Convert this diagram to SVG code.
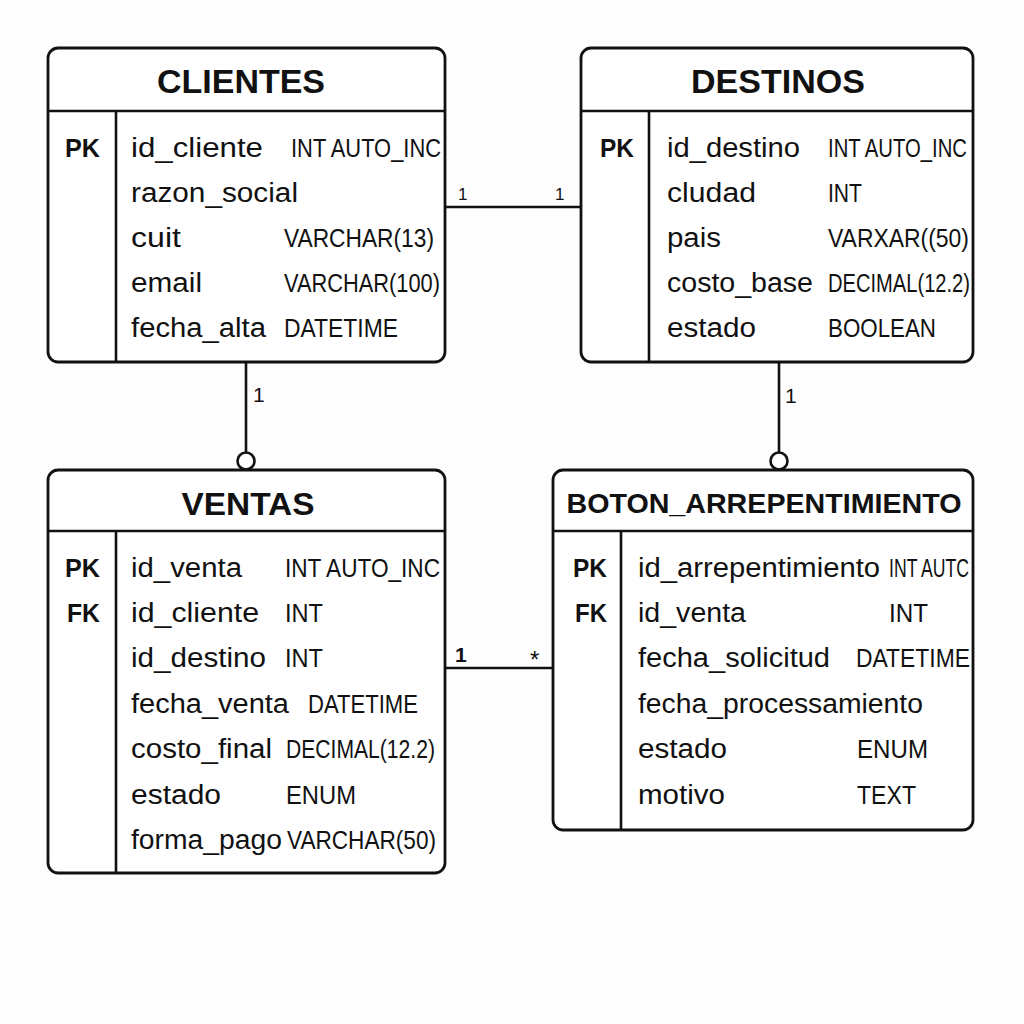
<svg xmlns="http://www.w3.org/2000/svg" width="1024" height="1024" viewBox="0 0 1024 1024">
<style>
.box{fill:#fff;stroke:#111;stroke-width:2.8}
.sep{stroke:#111;stroke-width:2.6;fill:none}
.conn{stroke:#111;stroke-width:2.6;fill:none}
.ring{fill:#fff;stroke:#111;stroke-width:2.6}
.title{font-family:"Liberation Sans",Arial,sans-serif;font-weight:bold;fill:#111;text-anchor:middle}
.key{font-family:"Liberation Sans",Arial,sans-serif;font-weight:bold;font-size:26px;fill:#111}
.name{font-family:"Liberation Sans",Arial,sans-serif;font-size:27px;fill:#111}
.type{font-family:"Liberation Sans",Arial,sans-serif;font-size:25px;fill:#111}
.card{font-family:"Liberation Sans",Arial,sans-serif;fill:#111}
</style>
<rect width="1024" height="1024" fill="#fdfdfd"/>

<g id="connectors">
  <line class="conn" x1="445" y1="207" x2="581" y2="207"/>
  <text class="card" x="458" y="200" font-size="17">1</text>
  <text class="card" x="555" y="200" font-size="17">1</text>

  <line class="conn" x1="246" y1="362" x2="246" y2="452"/>
  <circle class="ring" cx="246" cy="461" r="8.5"/>
  <text class="card" x="253" y="402" font-size="21">1</text>

  <line class="conn" x1="779" y1="362" x2="779" y2="452"/>
  <circle class="ring" cx="779" cy="461" r="8.5"/>
  <text class="card" x="785" y="403" font-size="21">1</text>

  <line class="conn" x1="445" y1="668" x2="553" y2="668"/>
  <text class="card" x="455" y="662" font-size="21" font-weight="bold">1</text>
  <text class="card" x="530" y="668" font-size="24">*</text>
</g>

<g id="clientes">
  <rect class="box" x="48" y="48" width="397" height="314" rx="10"/>
  <line class="sep" x1="48" y1="111" x2="445" y2="111"/>
  <line class="sep" x1="116" y1="111" x2="116" y2="362"/>
  <text class="title" x="241" y="93" font-size="34" textLength="168" lengthAdjust="spacingAndGlyphs">CLIENTES</text>
  <text class="key" x="65" y="157" textLength="35" lengthAdjust="spacingAndGlyphs">PK</text>
  <text class="name" x="131" y="157" textLength="132" lengthAdjust="spacingAndGlyphs">id_cliente</text>
  <text class="name" x="131" y="202" textLength="167" lengthAdjust="spacingAndGlyphs">razon_social</text>
  <text class="name" x="131" y="247" textLength="50" lengthAdjust="spacingAndGlyphs">cuit</text>
  <text class="name" x="131" y="292" textLength="71" lengthAdjust="spacingAndGlyphs">email</text>
  <text class="name" x="131" y="337" textLength="135" lengthAdjust="spacingAndGlyphs">fecha_alta</text>
  <text class="type" x="291" y="157" textLength="150" lengthAdjust="spacingAndGlyphs">INT AUTO_INC</text>
  <text class="type" x="284" y="247" textLength="150" lengthAdjust="spacingAndGlyphs">VARCHAR(13)</text>
  <text class="type" x="284" y="292" textLength="156" lengthAdjust="spacingAndGlyphs">VARCHAR(100)</text>
  <text class="type" x="284" y="337" textLength="114" lengthAdjust="spacingAndGlyphs">DATETIME</text>
</g>

<g id="destinos">
  <rect class="box" x="581" y="48" width="392" height="314" rx="10"/>
  <line class="sep" x1="581" y1="111" x2="973" y2="111"/>
  <line class="sep" x1="649" y1="111" x2="649" y2="362"/>
  <text class="title" x="778" y="93" font-size="34" textLength="174" lengthAdjust="spacingAndGlyphs">DESTINOS</text>
  <text class="key" x="600" y="157" textLength="34" lengthAdjust="spacingAndGlyphs">PK</text>
  <text class="name" x="667" y="157" textLength="133" lengthAdjust="spacingAndGlyphs">id_destino</text>
  <text class="name" x="667" y="202" textLength="89" lengthAdjust="spacingAndGlyphs">cludad</text>
  <text class="name" x="667" y="247" textLength="54" lengthAdjust="spacingAndGlyphs">pais</text>
  <text class="name" x="667" y="292" textLength="146" lengthAdjust="spacingAndGlyphs">costo_base</text>
  <text class="name" x="667" y="337" textLength="89" lengthAdjust="spacingAndGlyphs">estado</text>
  <text class="type" x="828" y="157" textLength="139" lengthAdjust="spacingAndGlyphs">INT AUTO_INC</text>
  <text class="type" x="828" y="202" textLength="34" lengthAdjust="spacingAndGlyphs">INT</text>
  <text class="type" x="828" y="247" textLength="141" lengthAdjust="spacingAndGlyphs">VARXAR((50)</text>
  <text class="type" x="828" y="292" textLength="142" lengthAdjust="spacingAndGlyphs">DECIMAL(12.2)</text>
  <text class="type" x="828" y="337" textLength="108" lengthAdjust="spacingAndGlyphs">BOOLEAN</text>
</g>

<g id="ventas">
  <rect class="box" x="48" y="470" width="397" height="403" rx="10"/>
  <line class="sep" x1="48" y1="531" x2="445" y2="531"/>
  <line class="sep" x1="116" y1="531" x2="116" y2="873"/>
  <text class="title" x="248" y="515" font-size="32" textLength="133" lengthAdjust="spacingAndGlyphs">VENTAS</text>
  <text class="key" x="65" y="577" textLength="35" lengthAdjust="spacingAndGlyphs">PK</text>
  <text class="key" x="67" y="622" textLength="33" lengthAdjust="spacingAndGlyphs">FK</text>
  <text class="name" x="131" y="577" textLength="111" lengthAdjust="spacingAndGlyphs">id_venta</text>
  <text class="name" x="131" y="622" textLength="128" lengthAdjust="spacingAndGlyphs">id_cliente</text>
  <text class="name" x="131" y="667" textLength="135" lengthAdjust="spacingAndGlyphs">id_destino</text>
  <text class="name" x="131" y="713" textLength="158" lengthAdjust="spacingAndGlyphs">fecha_venta</text>
  <text class="name" x="131" y="758" textLength="141" lengthAdjust="spacingAndGlyphs">costo_final</text>
  <text class="name" x="131" y="804" textLength="90" lengthAdjust="spacingAndGlyphs">estado</text>
  <text class="name" x="131" y="849" textLength="151" lengthAdjust="spacingAndGlyphs">forma_pago</text>
  <text class="type" x="285" y="577" textLength="155" lengthAdjust="spacingAndGlyphs">INT AUTO_INC</text>
  <text class="type" x="285" y="622" textLength="38" lengthAdjust="spacingAndGlyphs">INT</text>
  <text class="type" x="285" y="667" textLength="38" lengthAdjust="spacingAndGlyphs">INT</text>
  <text class="type" x="308" y="713" textLength="110" lengthAdjust="spacingAndGlyphs">DATETIME</text>
  <text class="type" x="286" y="758" textLength="149" lengthAdjust="spacingAndGlyphs">DECIMAL(12.2)</text>
  <text class="type" x="286" y="804" textLength="70" lengthAdjust="spacingAndGlyphs">ENUM</text>
  <text class="type" x="287" y="849" textLength="149" lengthAdjust="spacingAndGlyphs">VARCHAR(50)</text>
</g>

<g id="boton_arrepentimiento">
  <rect class="box" x="553" y="470" width="420" height="360" rx="10"/>
  <line class="sep" x1="553" y1="531" x2="973" y2="531"/>
  <line class="sep" x1="621" y1="531" x2="621" y2="830"/>
  <text class="title" x="764" y="513" font-size="28" textLength="395" lengthAdjust="spacingAndGlyphs">BOTON_ARREPENTIMIENTO</text>
  <text class="key" x="573" y="577" textLength="34" lengthAdjust="spacingAndGlyphs">PK</text>
  <text class="key" x="575" y="622" textLength="32" lengthAdjust="spacingAndGlyphs">FK</text>
  <text class="name" x="638" y="577" textLength="242" lengthAdjust="spacingAndGlyphs">id_arrepentimiento</text>
  <text class="name" x="638" y="622" textLength="108" lengthAdjust="spacingAndGlyphs">id_venta</text>
  <text class="name" x="638" y="667" textLength="192" lengthAdjust="spacingAndGlyphs">fecha_solicitud</text>
  <text class="name" x="638" y="713" textLength="285" lengthAdjust="spacingAndGlyphs">fecha_processamiento</text>
  <text class="name" x="638" y="758" textLength="89" lengthAdjust="spacingAndGlyphs">estado</text>
  <text class="name" x="638" y="804" textLength="87" lengthAdjust="spacingAndGlyphs">motivo</text>
  <text class="type" x="889" y="577" textLength="80" lengthAdjust="spacingAndGlyphs">INT AUTC</text>
  <text class="type" x="889" y="622" textLength="39" lengthAdjust="spacingAndGlyphs">INT</text>
  <text class="type" x="856" y="667" textLength="114" lengthAdjust="spacingAndGlyphs">DATETIME</text>
  <text class="type" x="857" y="758" textLength="71" lengthAdjust="spacingAndGlyphs">ENUM</text>
  <text class="type" x="857" y="804" textLength="59" lengthAdjust="spacingAndGlyphs">TEXT</text>
</g>
</svg>
